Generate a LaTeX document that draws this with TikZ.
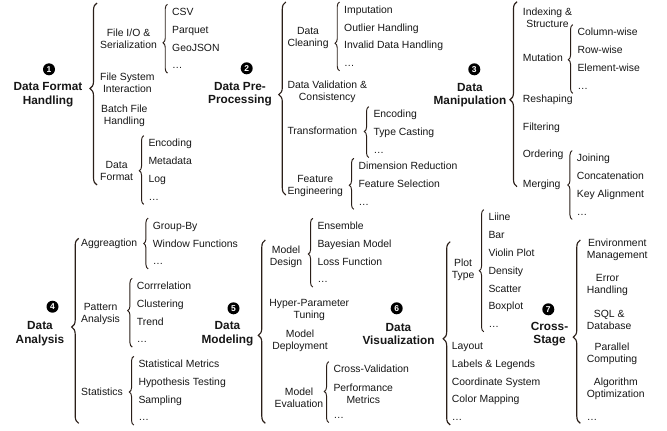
\documentclass[tikz,border=0pt]{standalone}
\usepackage{fontspec}
\setmainfont{Liberation Sans}
\usetikzlibrary{decorations.pathreplacing,positioning}
\definecolor{bracecol}{RGB}{42,30,24}
\definecolor{txtcol}{RGB}{22,22,22}

\begin{document}
\begin{tikzpicture}[x=1pt, y=-1pt,
            every node/.style={text=txtcol, font=\fontsize{10.4}{12}\selectfont},
            stage/.style={align=center, inner sep=0pt, font=\fontsize{11.8}{13.5}\selectfont\bfseries},
            num/.style={circle, fill=black, text=white, inner sep=0pt, minimum size=12pt, font=\fontsize{8.5}{8.5}\selectfont\bfseries},
            sub/.style={align=center, anchor=west, inner sep=0pt},
            leaf/.style={anchor=west, inner sep=0pt, text height=7pt, text depth=0pt},
            under/.style={below right=10.4pt and 0pt of #1.south west},
            bigbrace/.style={draw=bracecol, line width=1.15pt, decorate, decoration={brace, amplitude=7pt, aspect=#1}},
            smallbrace/.style={draw=bracecol, line width=0.95pt, decorate, decoration={brace, amplitude=4.5pt, aspect=#1}}]
            \useasboundingbox (0,0) rectangle (667,431);

            \node (format) [stage] at (48,94.6) {Data Format\\Handling};
            \node (n1) [num] at (49,69.3) {1};
            \coordinate (format top) at (97,3);
            \coordinate (format bot) at (97,185);
            \draw [bigbrace=0.53] (format bot) -- (format top);
            \node (fileio) [sub] at (100,39) {File I/O \&\\Serialization};
            \node (filesys) [sub] at (100,83) {File System\\Interaction};
            \node (batch) [sub] at (101,116) {Batch File\\Handling};
            \node (dataformat) [sub] at (100,171) {Data\\Format};
            \node (csv) [leaf] at (172,12) {CSV};
            \node (parquet) [leaf, under=csv] {Parquet};
            \node (geojson) [leaf, under=parquet] {GeoJSON};
            \node (iodots) [leaf, under=geojson] {\dots};
            \draw [smallbrace=0.44] ([xshift=-4.5pt, yshift=-4pt]iodots.south west) -- ([xshift=-4.5pt, yshift=4pt]csv.north west);
            \node (encoding) [leaf] at (148.3,143.3) {Encoding};
            \node (metadata) [leaf, under=encoding] {Metadata};
            \node (log) [leaf, under=metadata] {Log};
            \node (fmtdots) [leaf, under=log] {\dots};
            \draw [smallbrace=0.49] ([xshift=-4.5pt, yshift=-4pt]fmtdots.south west) -- ([xshift=-4.5pt, yshift=4pt]encoding.north west);

            \node (prep) [stage] at (240,94) {Data Pre-\\Processing};
            \node (n2) [num] at (246.7,68.3) {2};
            \coordinate (prep top) at (285.8,2);
            \coordinate (prep bot) at (285.8,195);
            \draw [bigbrace=0.52] (prep bot) -- (prep top);
            \node (cleaning) [sub] at (287.3,37.7) {Data\\Cleaning};
            \node (validation) [sub] at (287.3,92) {Data Validation \&\\Consistency};
            \node (transform) [leaf] at (287.3,131) {Transformation};
            \node (feature) [sub] at (287.3,185.7) {Feature\\Engineering};
            \node (imputation) [leaf] at (344,9.7) {Imputation};
            \node (outlier) [leaf, under=imputation] {Outlier Handling};
            \node (invalid) [leaf, under=outlier] {Invalid Data Handling};
            \node (cleandots) [leaf, under=invalid] {\dots};
            \draw [smallbrace=0.4] ([xshift=-4.5pt, yshift=-4pt]cleandots.south west) -- ([xshift=-4.5pt, yshift=4pt]imputation.north west);
            \node (trencoding) [leaf] at (373.3,114.3) {Encoding};
            \node (casting) [leaf, under=trencoding] {Type Casting};
            \node (transdots) [leaf, under=casting] {\dots};
            \draw [smallbrace=0.51] ([xshift=-4.5pt, yshift=-4pt]transdots.south west) -- ([xshift=-4.5pt, yshift=4pt]trencoding.north west);
            \node (dimred) [leaf] at (358.3,166) {Dimension Reduction};
            \node (featsel) [leaf, under=dimred] {Feature Selection};
            \node (featdots) [leaf, under=featsel] {\dots};
            \draw [smallbrace=0.47] ([xshift=-4.5pt, yshift=-4pt]featdots.south west) -- ([xshift=-4.5pt, yshift=4pt]dimred.north west);

            \node (manip) [stage] at (470,95.2) {Data\\Manipulation};
            \node (n3) [num] at (474.3,69.3) {3};
            \coordinate (manip top) at (517,1.7);
            \coordinate (manip bot) at (517,186.7);
            \draw [bigbrace=0.47] (manip bot) -- (manip top);
            \node (indexing) [sub] at (522.7,17.7) {Indexing \&\\Structure};
            \node (mutation) [leaf] at (522.7,58.3) {Mutation};
            \node (reshaping) [leaf] at (522.7,99.3) {Reshaping};
            \node (filtering) [leaf] at (522.7,126.7) {Filtering};
            \node (ordering) [leaf] at (522.7,154) {Ordering};
            \node (merging) [leaf] at (522.7,184.3) {Merging};
            \node (colwise) [leaf] at (577.3,32.3) {Column-wise};
            \node (rowwise) [leaf, under=colwise] {Row-wise};
            \node (elemwise) [leaf, under=rowwise] {Element-wise};
            \node (mutdots) [leaf, under=elemwise] {\dots};
            \draw [smallbrace=0.49] ([xshift=-4.5pt, yshift=-4pt]mutdots.south west) -- ([xshift=-4.5pt, yshift=4pt]colwise.north west);
            \node (joining) [leaf] at (576.7,158.3) {Joining};
            \node (concat) [leaf, under=joining] {Concatenation};
            \node (keyalign) [leaf, under=concat] {Key Alignment};
            \node (mergedots) [leaf, under=keyalign] {\dots};
            \draw [smallbrace=0.5] ([xshift=-4.5pt, yshift=-4pt]mergedots.south west) -- ([xshift=-4.5pt, yshift=4pt]joining.north west);

            \node (analysis) [stage] at (40,333.8) {Data\\Analysis};
            \node (n4) [num] at (52.5,306.7) {4};
            \coordinate (analysis top) at (78.7,238.3);
            \coordinate (analysis bot) at (78.7,423.3);
            \draw [bigbrace=0.52] (analysis bot) -- (analysis top);
            \node (aggregation) [leaf] at (81,243.3) {Aggreagtion};
            \node (pattern) [sub] at (81,313.5) {Pattern\\Analysis};
            \node (statistics) [leaf] at (81,391.7) {Statistics};
            \node (groupby) [leaf] at (152.7,225.7) {Group-By};
            \node (window) [leaf, under=groupby] {Window Functions};
            \node (aggdots) [leaf, under=window] {\dots};
            \draw [smallbrace=0.5] ([xshift=-4.5pt, yshift=-4pt]aggdots.south west) -- ([xshift=-4.5pt, yshift=4pt]groupby.north west);
            \node (correlation) [leaf] at (136.7,286) {Corrrelation};
            \node (clustering) [leaf, under=correlation] {Clustering};
            \node (trend) [leaf, under=clustering] {Trend};
            \node (patdots) [leaf, under=trend] {\dots};
            \draw [smallbrace=0.53] ([xshift=-4.5pt, yshift=-4pt]patdots.south west) -- ([xshift=-4.5pt, yshift=4pt]correlation.north west);
            \node (statmetrics) [leaf] at (138.3,364) {Statistical Metrics};
            \node (hypothesis) [leaf, under=statmetrics] {Hypothesis Testing};
            \node (sampling) [leaf, under=hypothesis] {Sampling};
            \node (statdots) [leaf, under=sampling] {\dots};
            \draw [smallbrace=0.48] ([xshift=-4.5pt, yshift=-4pt]statdots.south west) -- ([xshift=-4.5pt, yshift=4pt]statmetrics.north west);

            \node (modeling) [stage] at (227.5,333.5) {Data\\Modeling};
            \node (n5) [num] at (233.5,308.3) {5};
            \coordinate (modeling top) at (265.3,240);
            \coordinate (modeling bot) at (265.3,423.3);
            \draw [bigbrace=0.48] (modeling bot) -- (modeling top);
            \node (design) [sub, anchor=center] at (286,256.8) {Model\\Design};
            \node (tuning) [sub, anchor=center] at (309.3,309.5) {Hyper-Parameter\\Tuning};
            \node (deploy) [sub, anchor=center] at (300,341) {Model\\Deployment};
            \node (evaluation) [sub, anchor=center] at (299,397.7) {Model\\Evaluation};
            \node (ensemble) [leaf] at (317.3,226) {Ensemble};
            \node (bayesian) [leaf, under=ensemble] {Bayesian Model};
            \node (lossfn) [leaf, under=bayesian] {Loss Function};
            \node (designdots) [leaf, under=lossfn] {\dots};
            \draw [smallbrace=0.48] ([xshift=-4.5pt, yshift=-4pt]designdots.south west) -- ([xshift=-4.5pt, yshift=4pt]ensemble.north west);
            \node (crossval) [leaf] at (333.3,369.3) {Cross-Validation};
            \node (perf) [sub] at (333.3,393.5) {Performance\\Metrics};
            \node (evaldots) [leaf] at (333.3,414.8) {\dots};
            \draw [smallbrace=0.51] ([xshift=-4.5pt, yshift=-4pt]evaldots.south west) -- ([xshift=-4.5pt, yshift=4pt]crossval.north west);

            \node (vis) [stage] at (398.5,333.8) {Data\\Visualization};
            \node (n6) [num] at (396.7,308.3) {6};
            \coordinate (vis top) at (450.2,241.7);
            \coordinate (vis bot) at (450.2,425);
            \draw [bigbrace=0.47] (vis bot) -- (vis top);
            \node (plottype) [sub] at (451.7,270) {Plot\\Type};
            \node (layout) [leaf] at (451.7,346) {Layout};
            \node (labels) [leaf, under=layout] {Labels \& Legends};
            \node (coords) [leaf, under=labels] {Coordinate System};
            \node (colormap) [leaf, under=coords] {Color Mapping};
            \node (visdots) [leaf, under=colormap] {\dots};
            \node (line) [leaf] at (488.3,217.3) {Liine};
            \node (bar) [leaf, under=line] {Bar};
            \node (violin) [leaf, under=bar] {Violin Plot};
            \node (density) [leaf, under=violin] {Density};
            \node (scatter) [leaf, under=density] {Scatter};
            \node (boxplot) [leaf, under=scatter] {Boxplot};
            \node (plotdots) [leaf, under=boxplot] {\dots};
            \draw [smallbrace=0.5] ([xshift=-4.5pt, yshift=-4pt]plotdots.south west) -- ([xshift=-4.5pt, yshift=4pt]line.north west);

            \node (cross) [stage] at (549.5,334) {Cross-\\Stage};
            \node (n7) [num] at (548.3,309.3) {7};
            \coordinate (cross top) at (580.3,240);
            \coordinate (cross bot) at (580.3,423.3);
            \draw [bigbrace=0.47] (cross bot) -- (cross top);
            \node (env) [sub] at (586.7,250) {Environment\\Management};
            \node (error) [sub] at (586.7,284.5) {Error\\Handling};
            \node (sql) [sub] at (586.7,319.5) {SQL \&\\Database};
            \node (parallel) [sub] at (586.7,354) {Parallel\\Computing};
            \node (algo) [sub] at (586.7,389.3) {Algorithm\\Optimization};
            \node (crossdots) [leaf] at (586.7,416.5) {\dots};
        \end{tikzpicture}
\end{document}
